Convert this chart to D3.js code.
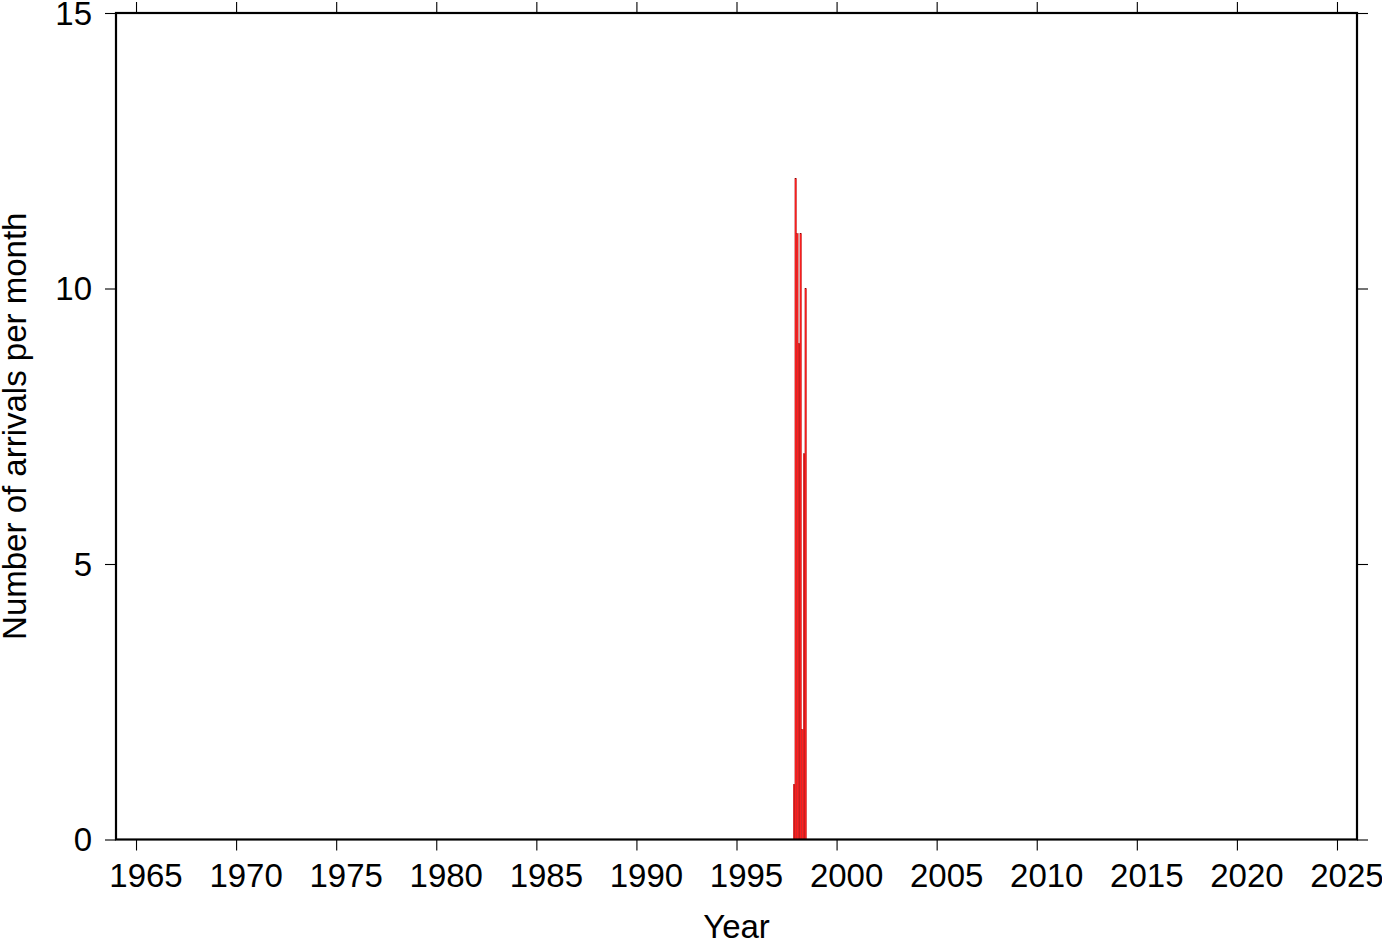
<!DOCTYPE html>
<html>
<head>
<meta charset="utf-8">
<script src="https://cdn.jsdelivr.net/npm/d3@7"></script>
<style>
  html, body { margin: 0; padding: 0; background: #fff; }
  svg { display: block; font-family: "Liberation Sans", Arial, Helvetica, sans-serif; }
</style>
</head>
<body>
<svg id="chart" width="1382" height="942"></svg>
<script>
// Monthly arrival counts (year, month index 1-12, count)
const binYears  = [1997, 1997, 1998, 1998, 1998, 1998, 1998, 1998];
const binMonths = [11, 12, 1, 2, 3, 4, 5, 6];
const binCounts = [1, 12, 11, 9, 11, 2, 7, 10];

const xTickYears = [1965, 1970, 1975, 1980, 1985, 1990, 1995, 2000, 2005, 2010, 2015, 2020, 2025];
const yTickValues = [0, 5, 10, 15];
const xTitle = "Year";
const yTitle = "Number of arrivals per month";

(function () {
const svg = d3.select("#chart");
const pLeft = 116, pRight = 1357, pTop = 13, pBottom = 839.5;

const x = d3.scaleLinear().domain([1964, 2026]).range([pLeft, pRight]);
const y = d3.scaleLinear().domain([0, 15]).range([pBottom, pTop]);

const bins = binYears.map((yr, i) => ({
  start: yr + (binMonths[i] - 1) / 12,
  end: yr + binMonths[i] / 12,
  count: binCounts[i]
}));

// Bars
svg.append("g").selectAll("rect").data(bins).join("rect")
  .attr("x", d => x(d.start))
  .attr("width", d => x(d.end) - x(d.start))
  .attr("y", d => y(d.count))
  .attr("height", d => y(0) - y(d.count))
  .attr("fill", "#ff1e1e")
  .attr("stroke", "#8a0000")
  .attr("stroke-width", 0.3);

const tickLen = 11;
const fontSize = 33;

const gb = svg.append("g").attr("transform", `translate(0,${pBottom})`)
  .call(d3.axisBottom(x).tickValues(xTickYears).tickSize(tickLen).tickFormat(""));
const gt = svg.append("g").attr("transform", `translate(0,${pTop})`)
  .call(d3.axisTop(x).tickValues(xTickYears).tickSize(tickLen).tickFormat(""));
const gl = svg.append("g").attr("transform", `translate(${pLeft},0)`)
  .call(d3.axisLeft(y).tickValues(yTickValues).tickSize(tickLen).tickFormat(""));
const gr = svg.append("g").attr("transform", `translate(${pRight},0)`)
  .call(d3.axisRight(y).tickValues(yTickValues).tickSize(tickLen).tickFormat(""));

[gb, gt, gl, gr].forEach(g => {
  g.select(".domain").remove();
  g.selectAll(".tick line").attr("stroke", "#000").attr("stroke-width", 1.1);
});

// X tick labels (annotations sit half a year right of the tick)
svg.append("g").selectAll("text").data(xTickYears).join("text")
  .attr("x", d => x(d + 0.5))
  .attr("y", 887)
  .attr("text-anchor", "middle")
  .attr("font-size", fontSize)
  .attr("fill", "#000")
  .text(d => d);

// Y tick labels
svg.append("g").selectAll("text").data(yTickValues).join("text")
  .attr("x", 92)
  .attr("y", d => y(d))
  .attr("dy", "0.36em")
  .attr("text-anchor", "end")
  .attr("font-size", fontSize)
  .attr("fill", "#000")
  .text(d => d);

// Frame
svg.append("rect")
  .attr("x", pLeft).attr("y", pTop)
  .attr("width", pRight - pLeft).attr("height", pBottom - pTop)
  .attr("fill", "none").attr("stroke", "#000").attr("stroke-width", 2.2);

// Axis titles
svg.append("text")
  .attr("x", (pLeft + pRight) / 2)
  .attr("y", 938)
  .attr("text-anchor", "middle")
  .attr("font-size", fontSize)
  .attr("fill", "#000")
  .text(xTitle);

svg.append("text")
  .attr("transform", `translate(26,${(pTop + pBottom) / 2}) rotate(-90)`)
  .attr("text-anchor", "middle")
  .attr("font-size", fontSize)
  .attr("fill", "#000")
  .text(yTitle);
})();
</script>
</body>
</html>
